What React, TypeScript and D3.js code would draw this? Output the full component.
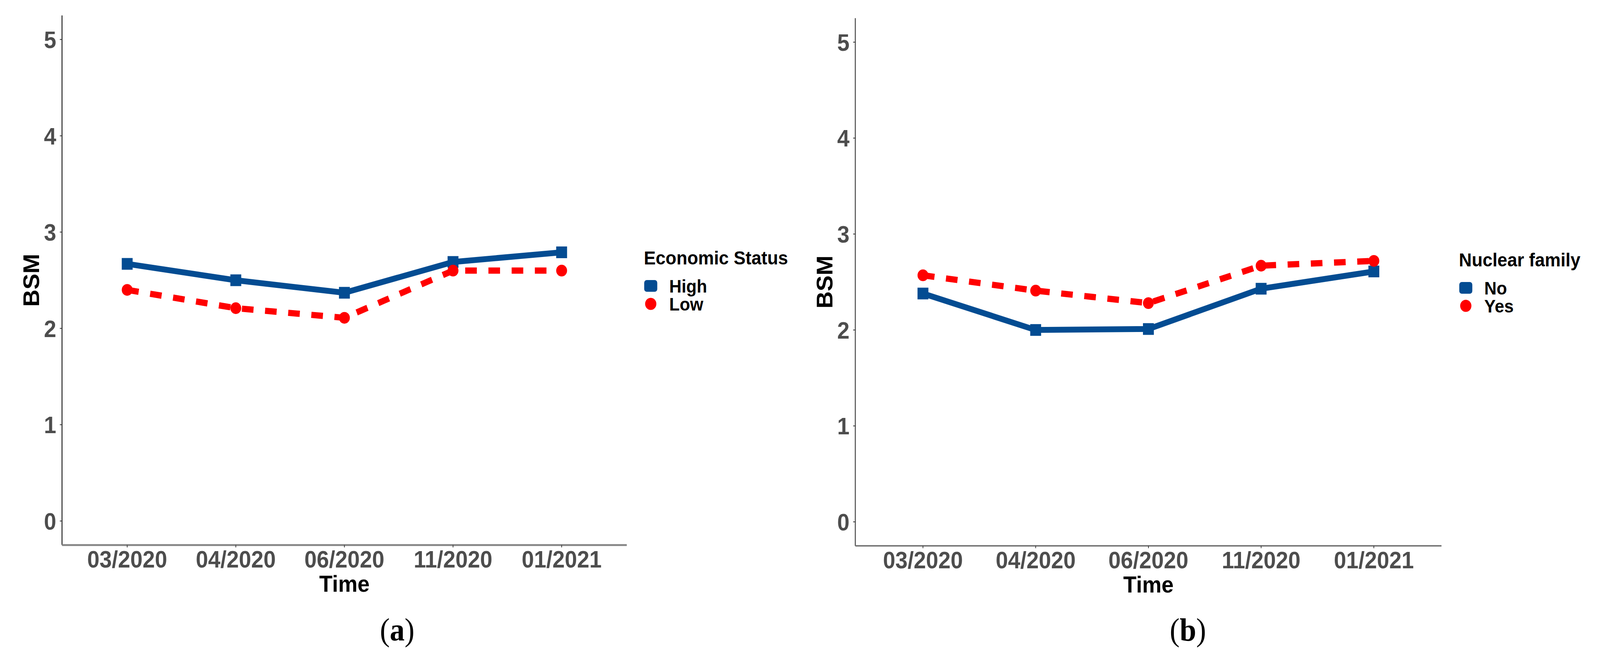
import React from "react";
import * as d3 from "d3";

const categories = ["03/2020", "04/2020", "06/2020", "11/2020", "01/2021"];
const yTicks = [0, 1, 2, 3, 4, 5];
const econHigh = [2.67, 2.5, 2.37, 2.69, 2.79];
const econLow = [2.4, 2.21, 2.11, 2.6, 2.6];
const nuclearNo = [2.38, 2.0, 2.01, 2.43, 2.61];
const nuclearYes = [2.57, 2.41, 2.28, 2.67, 2.72];

const BLUE = "#034c92";
const RED = "#ff0000";
const SANS = "'Liberation Sans', Arial, sans-serif";
const SERIF = "'Liberation Serif', 'Times New Roman', serif";

type PanelProps = {
  left: number;
  right: number;
  top: number;
  bottom: number;
  yAxisColor: string;
  yAxisWidth: number;
  xAxisColor: string;
  xAxisWidth: number;
  solid: number[];
  dashed: number[];
  legendTitle: string;
  solidLabel: string;
  dashedLabel: string;
  legendX: number;
  legendTitleY: number;
  caption: string;
  captionX: number;
};

function Panel(p: PanelProps) {
  const x = d3.scalePoint<string>().domain(categories).range([p.left, p.right]).padding(0.6);
  const y = d3.scaleLinear().domain([-0.25, 5.25]).range([p.bottom, p.top]);
  const line = d3
    .line<number>()
    .x((_, i) => x(categories[i]) as number)
    .y((d) => y(d));
  const sq = 30;
  const keyX = p.legendX + 19;
  const key1Y = p.legendTitleY + 55;
  const key2Y = key1Y + 46;
  const cx = (p.left + p.right) / 2;
  return (
    <g>
      <line x1={p.left} x2={p.left} y1={p.top} y2={p.bottom} stroke={p.yAxisColor} strokeWidth={p.yAxisWidth} />
      <line x1={p.left} x2={p.right} y1={p.bottom} y2={p.bottom} stroke={p.xAxisColor} strokeWidth={p.xAxisWidth} />
      {yTicks.map((t) => (
        <g key={"y" + t}>
          <line x1={p.left - 6} x2={p.left} y1={y(t)} y2={y(t)} stroke="#333" strokeWidth={2} />
          <text
            x={p.left - 16}
            y={y(t)}
            dy="0.358em"
            textAnchor="end"
            fontFamily={SANS}
            fontWeight="bold"
            fontSize={61}
            fill="#4d4d4d"
          >
            {t}
          </text>
        </g>
      ))}
      {categories.map((c) => (
        <g key={"x" + c}>
          <line x1={x(c)} x2={x(c)} y1={p.bottom} y2={p.bottom + 6} stroke="#333" strokeWidth={2} />
          <text
            x={x(c)}
            y={p.bottom + 58}
            textAnchor="middle"
            fontFamily={SANS}
            fontWeight="bold"
            fontSize={61}
            fill="#4d4d4d"
          >
            {c}
          </text>
        </g>
      ))}
      <text x={cx} y={p.bottom + 120} textAnchor="middle" fontFamily={SANS} fontWeight="bold" fontSize={60} fill="#000">
        Time
      </text>
      <text
        transform={`translate(${p.left - 63},${(p.top + p.bottom) / 2}) rotate(-90)`}
        textAnchor="middle"
        fontFamily={SANS}
        fontWeight="bold"
        fontSize={61}
        fill="#000"
      >
        BSM
      </text>
      <path d={line(p.solid) || ""} fill="none" stroke={BLUE} strokeWidth={15} strokeLinejoin="round" />
      {p.solid.map((v, i) => (
        <rect
          key={"s" + i}
          x={(x(categories[i]) as number) - sq / 2}
          y={y(v) - sq / 2}
          width={sq}
          height={sq}
          fill={BLUE}
        />
      ))}
      <path d={line(p.dashed) || ""} fill="none" stroke={RED} strokeWidth={16} strokeDasharray="32,32" />
      {p.dashed.map((v, i) => (
        <circle key={"d" + i} cx={x(categories[i]) as number} cy={y(v)} r={15} fill={RED} />
      ))}
      <text x={p.legendX} y={p.legendTitleY} fontFamily={SANS} fontWeight="bold" fontSize={49} fill="#000">
        {p.legendTitle}
      </text>
      <rect x={keyX - 18} y={key1Y - 15} width={36} height={30} rx={7} fill={BLUE} />
      <circle cx={keyX} cy={key2Y} r={15.5} fill={RED} />
      <text x={p.legendX + 70} y={key1Y} dy="0.36em" fontFamily={SANS} fontWeight="bold" fontSize={47} fill="#000">
        {p.solidLabel}
      </text>
      <text x={p.legendX + 70} y={key2Y} dy="0.36em" fontFamily={SANS} fontWeight="bold" fontSize={47} fill="#000">
        {p.dashedLabel}
      </text>
      <text x={p.captionX} y={1640} textAnchor="middle" fontFamily={SERIF} fontSize={82} fill="#000">
        (<tspan fontWeight="bold">{p.caption}</tspan>)
      </text>
    </g>
  );
}

export default function App() {
  return (
    <svg
      viewBox="0 0 4411 1700"
      preserveAspectRatio="none"
      style={{ position: "fixed", left: 0, top: 0, width: "100vw", height: "100vh", background: "#fff" }}
    >
      <rect width={4411} height={1700} fill="#fff" />
      <Panel
        left={171}
        right={1728}
        top={39.5}
        bottom={1395.5}
        yAxisColor="#1a1a1a"
        yAxisWidth={2.5}
        xAxisColor="#8a8a8a"
        xAxisWidth={5}
        solid={econHigh}
        dashed={econLow}
        legendTitle="Economic Status"
        solidLabel="High"
        dashedLabel="Low"
        legendX={1775}
        legendTitleY={677}
        caption="a"
        captionX={1095}
      />
      <Panel
        left={2358}
        right={3974}
        top={46.5}
        bottom={1397.5}
        yAxisColor="#5a5a5a"
        yAxisWidth={3}
        xAxisColor="#6b6b6b"
        xAxisWidth={3.5}
        solid={nuclearNo}
        dashed={nuclearYes}
        legendTitle="Nuclear family"
        solidLabel="No"
        dashedLabel="Yes"
        legendX={4022}
        legendTitleY={682}
        caption="b"
        captionX={3275}
      />
    </svg>
  );
}
